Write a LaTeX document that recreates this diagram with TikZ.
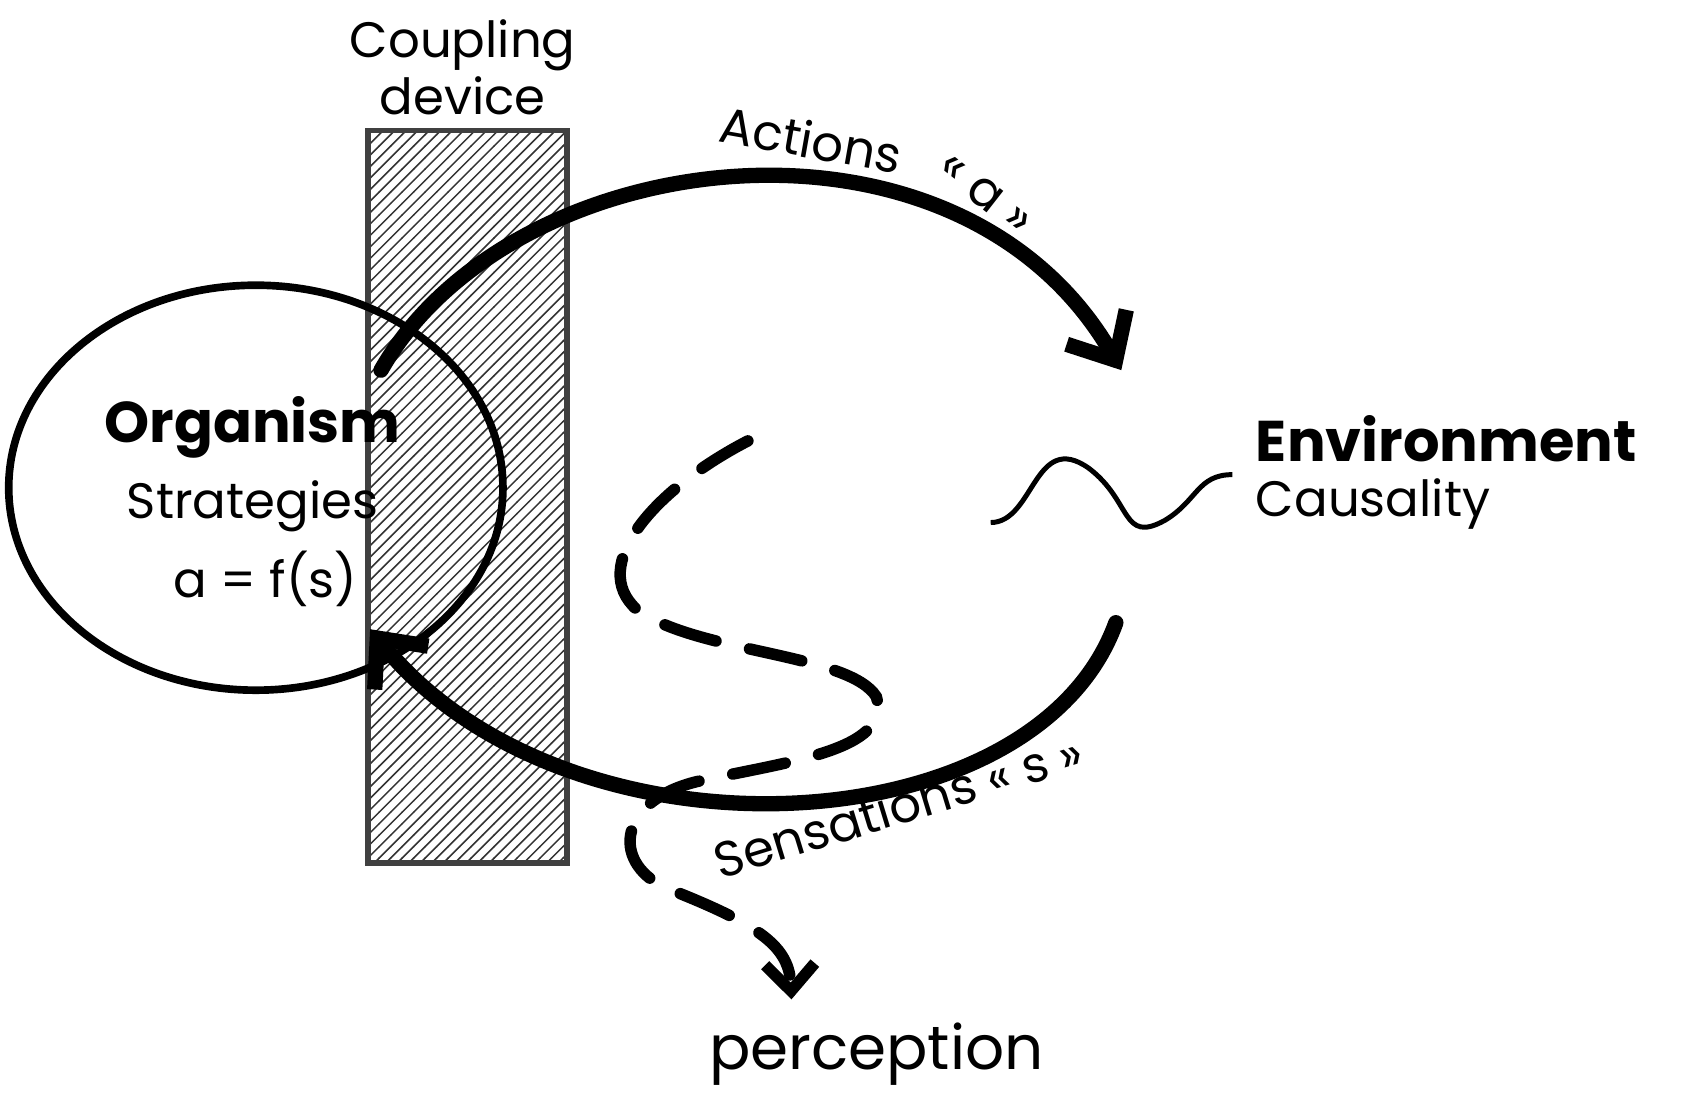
\documentclass[tikz,border=0pt]{standalone}
\usepackage{fontspec}
\setmainfont{Poppins}
\usetikzlibrary{patterns,arrows.meta,decorations.pathmorphing,shapes.geometric}
\begin{document}
\begin{tikzpicture}[x=0.01cm,y=-0.01cm,
  big/.style={line width=4pt,-{Straight Barb[length=10pt,width=18pt,line width=4pt]}},
  dashline/.style={line width=3pt,dash pattern=on 14pt off 9pt,line cap=round},
  lbl/.style={font=\fontsize{13}{15}\selectfont,inner sep=0pt},
  blbl/.style={font=\fontsize{15}{17}\selectfont\bfseries,inner sep=0pt}]
\useasboundingbox (0,0) rectangle (1568,1010);
\node[draw=black!75,line width=1.5pt,pattern=north east lines,pattern color=black!80,minimum width=183*0.01cm,minimum height=673*0.01cm,inner sep=0pt] (dev) at (429.5,456.5) {};
\node[draw,line width=2pt,ellipse,minimum width=454*0.01cm,minimum height=372*0.01cm,inner sep=0pt] (org) at (235,448) {};
\node[lbl,align=center] (coup) at (425,62) {Coupling\\device};
\node[blbl] (orgt) at (232,393) {Organism};
\node[lbl] (strat) at (232,465) {Strategies};
\node[lbl] (fs) at (244,532) {a = f(s)};
\node[blbl,anchor=west] (env) at (1153,403) {Environment};
\node[lbl,anchor=west] (caus) at (1153,463) {Causality};
\node[font=\fontsize{16}{18}\selectfont,inner sep=0pt] (perc) at (805,968) {perception};
\node[lbl,rotate=-10] (act) at (745,128) {Actions};
\node[lbl,rotate=-38] (aa) at (905,178) {« a »};
\node[lbl,rotate=17] (sens) at (825,740) {Sensations « s »};
\coordinate (a0) at (350,340);
\coordinate (a1) at (1030,340);
\coordinate (s0) at (1025,572);
\coordinate (s1) at (340,578);
\draw[big,line cap=round] (a0) .. controls (470,130) and (880,80) .. (a1);
\draw[big,line cap=round] (s0) .. controls (950,780) and (520,800) .. (s1);
\coordinate (d0) at (687,405);
\coordinate (d1) at (727,918);
\draw[dashline,-{Straight Barb[length=7pt,width=13pt,line width=3pt]}] (d0) .. controls (600,450) and (540,520) .. (585,560)
  .. controls (640,600) and (780,600) .. (805,640)
  .. controls (820,690) and (720,700) .. (640,718)
  .. controls (570,735) and (560,790) .. (610,815)
  .. controls (700,850) and (725,870) .. (d1);
\coordinate (w0) at (910,480);
\coordinate (w1) at (1132,436);
\draw[line width=1.3pt] (w0) .. controls (950,480) and (950,395) .. (1000,430) .. controls (1040,460) and (1030,500) .. (1070,478) .. controls (1100,460) and (1100,436) .. (w1);
\end{tikzpicture}
\end{document}
